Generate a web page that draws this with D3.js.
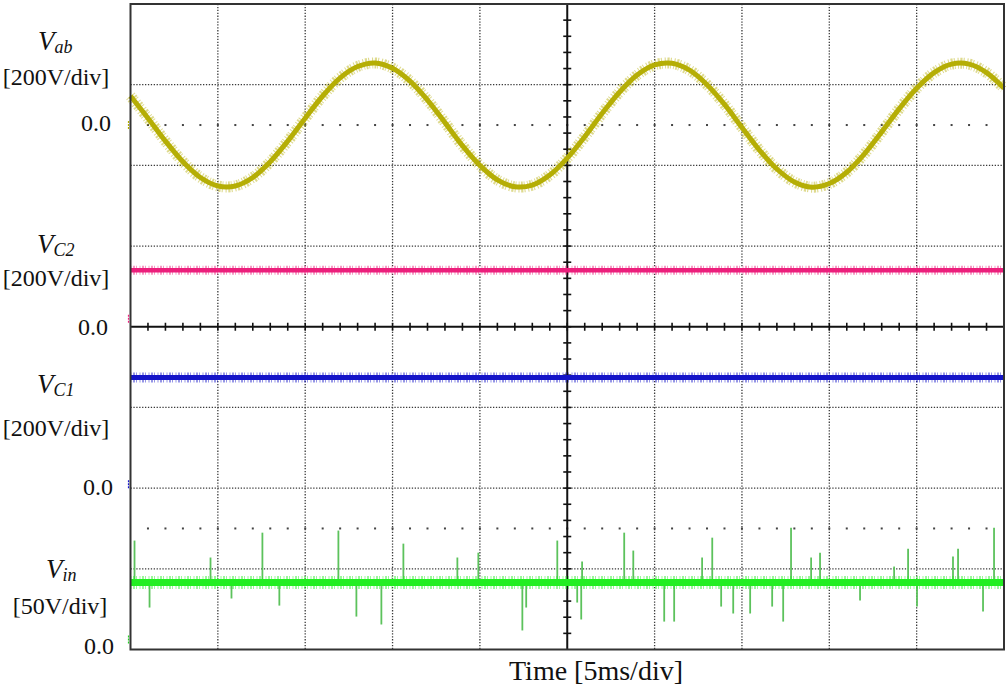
<!DOCTYPE html>
<html>
<head>
<meta charset="utf-8">
<script src="https://cdn.jsdelivr.net/npm/d3@7"></script>
<style>
  html, body { margin: 0; padding: 0; background: #fff; }
  svg { display: block; }
</style>
</head>
<body>
<svg id="chart" width="1006" height="689"></svg>
<script>
// ---------------- DATA ----------------
// time in ms (10 divisions x 5 ms/div)
const vabTime = [0,1,2,3,4,5,6,7,8,9,10,11,12,13,14,15,16,17,18,19,20,21,22,23,24,25,
                 26,27,28,29,30,31,32,33,34,35,36,37,38,39,40,41,42,43,44,45,46,47,48,49,50];
// Vab in volts (200 V/div)
const vabValues = [72,17,-40,-91,-130,-151,-151,-130,-91,-40,17,72,117,145,154,141,109,62,6,-51,
                   -100,-136,-153,-149,-124,-82,-29,29,82,124,149,153,136,100,51,-6,-62,-109,-141,-154,
                   -145,-117,-72,-17,40,91,130,151,151,130,91];
// DC levels (volts)
const levelTime = [0, 50];
const vc2Values = [140, 140];   // 200 V/div
const vc1Values = [274, 274];   // 200 V/div
const vinValues = [41.5, 41.5]; // 50 V/div
// Vin switching spikes: time (ms) and tip voltage (V)
const vinSpikeTime = [0.23,1.09,4.58,5.78,7.55,8.52,11.9,12.93,14.36,15.62,18.71,19.91,22.43,22.65,
                      24.43,25.57,25.8,25.85,28.26,28.78,30.55,31.12,32.72,33.3,33.81,34.5,35.47,36.73,
                      37.36,37.81,38.96,39.47,41.76,43.71,44.51,45.02,47.08,47.37,48.8,49.43];
const vinSpikeValue = [67.5,26.0,57.0,31.6,72.4,27.2,73.7,20.4,15.5,65.6,57.0,60.0,11.8,26.0,
                       67.5,29.1,18.6,54.5,72.4,61.3,17.3,17.3,57.0,69.3,26.6,22.3,22.3,26.6,
                       17.3,75.5,57.0,60.0,30.3,51.4,62.5,26.6,57.6,62.5,23.5,75.5];
// axis / label texts
const channelNames = ["ab", "C2", "C1", "in"];
const channelScales = ["[200V/div]", "[200V/div]", "[200V/div]", "[50V/div]"];
const zeroLabel = "0.0";
const xAxisTitle = "Time [5ms/div]";

// ---------------- LAYOUT ----------------
const svg = d3.select("#chart");
const L = 130.5, R = 1004, T = 4, B = 649.5;
const x = d3.scaleLinear().domain([0, 50]).range([L, R]);
const yDiv = d3.scaleLinear().domain([0, 8]).range([B, T]);
// each channel: volts mapped so its zero sits at a given division
const yVab = d3.scaleLinear().domain([-6.5 * 200, 1.5 * 200]).range([B, T]);
const yVc2 = d3.scaleLinear().domain([-4 * 200, 4 * 200]).range([B, T]);
const yVc1 = d3.scaleLinear().domain([-2 * 200, 6 * 200]).range([B, T]);
const yVin = d3.scaleLinear().domain([0, 8 * 50]).range([B, T]);

const g = svg.append("g");

// dotted grid
const gridCol = "#3a3a3a";
[1,2,3,4,6,7,8,9].forEach(i => {
  const t = i * 5;
  g.append("line").attr("x1", x(t)).attr("x2", x(t)).attr("y1", T).attr("y2", B)
    .attr("stroke", gridCol).attr("stroke-width", 1.3).attr("stroke-dasharray", "1.3,1.6");
});
[1,2,3,5,6,7].forEach(i => {
  g.append("line").attr("x1", L).attr("x2", R).attr("y1", yDiv(i)).attr("y2", yDiv(i))
    .attr("stroke", gridCol).attr("stroke-width", 1.3).attr("stroke-dasharray", "1.3,1.6");
});
// sparse reference dots (half divisions)
[6.5, 1.5].forEach(dv => {
  d3.range(1, 50, 1).forEach(t => {
    g.append("rect").attr("x", x(t) - 1).attr("y", yDiv(dv) - 1).attr("width", 2).attr("height", 2)
      .attr("fill", "#444");
  });
});

// centre axes with minor ticks
g.append("line").attr("x1", x(25)).attr("x2", x(25)).attr("y1", T).attr("y2", B)
  .attr("stroke", "#111").attr("stroke-width", 2);
g.append("line").attr("x1", L).attr("x2", R).attr("y1", yDiv(4)).attr("y2", yDiv(4))
  .attr("stroke", "#111").attr("stroke-width", 2);
d3.range(1, 50).forEach(t => {
  g.append("line").attr("x1", x(t)).attr("x2", x(t)).attr("y1", yDiv(4) - 4).attr("y2", yDiv(4) + 4)
    .attr("stroke", "#111").attr("stroke-width", 1.6);
});
d3.range(1, 40).forEach(k => {
  const dv = k / 5;
  g.append("line").attr("x1", x(25) - 4).attr("x2", x(25) + 4).attr("y1", yDiv(dv)).attr("y2", yDiv(dv))
    .attr("stroke", "#111").attr("stroke-width", 1.6);
});

// ---------------- TRACES ----------------
function trace(times, vals, yS, color, w, halo) {
  const pts = times.map((t, i) => [t, vals[i]]);
  const line = d3.line().x(d => x(d[0])).y(d => yS(d[1])).curve(d3.curveCatmullRom.alpha(0.5));
  g.append("path").datum(pts).attr("d", line).attr("fill", "none")
    .attr("stroke", color).attr("stroke-width", halo).attr("stroke-opacity", 0.45)
    .attr("stroke-dasharray", "1,1.5,2,1,1,2.5");
  g.append("path").datum(pts).attr("d", line).attr("fill", "none")
    .attr("stroke", color).attr("stroke-width", w);
}

// Vin spikes first (behind baseline band)
vinSpikeTime.forEach((t, i) => {
  g.append("line").attr("x1", x(t)).attr("x2", x(t))
    .attr("y1", yVin(vinValues[0])).attr("y2", yVin(vinSpikeValue[i]))
    .attr("stroke", "#5cc25c").attr("stroke-width", 1.8);
});

trace(vabTime, vabValues, yVab, "#b5ae05", 5, 11);
trace(levelTime, vc2Values, yVc2, "#ec1f7c", 4.5, 9);
trace(levelTime, vc1Values, yVc1, "#1414c8", 5, 10);
trace(levelTime, vinValues, yVin, "#22ee22", 7, 13);

// frame
g.append("rect").attr("x", L).attr("y", T).attr("width", R - L).attr("height", B - T)
  .attr("fill", "none").attr("stroke", "#333").attr("stroke-width", 2);

// small channel markers at left edge
[[yVab(0), "#b3ad00"], [yVc2(0) - 8, "#ec1f7c"], [yVc1(0) - 4, "#1414c8"], [yVin(0) - 10, "#22cc22"]]
  .forEach(([yy, c]) => {
    g.append("line").attr("x1", L - 2).attr("x2", L - 2).attr("y1", yy - 4).attr("y2", yy + 4)
      .attr("stroke", c).attr("stroke-width", 1.2).attr("stroke-dasharray", "2,1");
  });

// ---------------- LABELS ----------------
const font = "'Liberation Serif', 'Times New Roman', serif";
const labelPos = [
  { vx: 38, vy: 50, sy: 85, scx: 56, zx: 111, zy: 131 },
  { vx: 37, vy: 253, sy: 286, scx: 56, zx: 108, zy: 335 },
  { vx: 37, vy: 393, sy: 436, scx: 56, zx: 113, zy: 495 },
  { vx: 46, vy: 578, sy: 614, scx: 60, zx: 114, zy: 654 }
];
channelNames.forEach((nm, i) => {
  const p = labelPos[i];
  const t = svg.append("text").attr("x", p.vx).attr("y", p.vy)
    .attr("font-family", font).attr("font-size", 27).attr("font-style", "italic").attr("fill", "#111");
  t.append("tspan").text("V");
  t.append("tspan").attr("dy", 3).attr("font-size", 18).text(nm);
  svg.append("text").attr("x", p.scx).attr("y", p.sy).attr("text-anchor", "middle")
    .attr("font-family", font).attr("font-size", 24).attr("fill", "#111").text(channelScales[i]);
  svg.append("text").attr("x", p.zx).attr("y", p.zy).attr("text-anchor", "end")
    .attr("font-family", font).attr("font-size", 24).attr("fill", "#111").text(zeroLabel);
});
svg.append("text").attr("x", 596).attr("y", 680).attr("text-anchor", "middle")
  .attr("font-family", font).attr("font-size", 28).attr("fill", "#111").text(xAxisTitle);
</script>
</body>
</html>
